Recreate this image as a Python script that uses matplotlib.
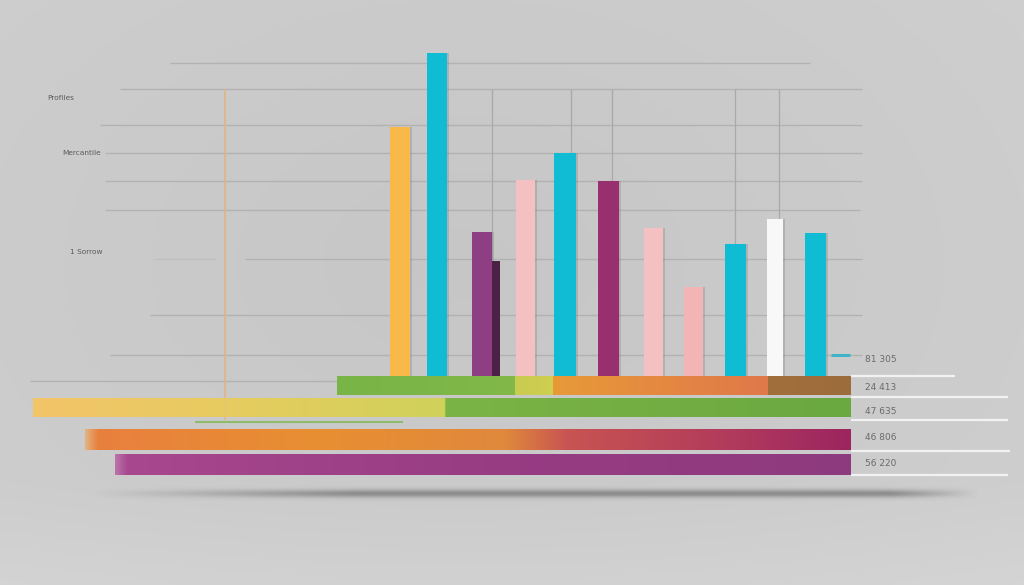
import numpy as np
import matplotlib
matplotlib.use("Agg")
import matplotlib.pyplot as plt
from matplotlib.colors import LinearSegmentedColormap
from matplotlib.patches import Rectangle

# ---------------- data ----------------
bar_values = [77.1, 100.0, 44.6, 60.7, 69.0, 60.4, 45.8, 27.6, 40.9, 48.6, 44.3]
bar_colors = ["#f8b94b", "#0fbcd4", "#8e3f84", "#f5c0c2", "#0fbcd4", "#982f6e",
              "#f5c0c2", "#f2b4b4", "#0fbcd4", "#f8f8f8", "#0fbcd4"]
shadow_value = 35.6            # dark step beside the purple bar
grid_levels = [97.0, 88.9, 77.7, 69.0, 60.4, 51.4, 36.2, 18.9, 6.5, -1.5]
axis_labels = ["Profiles", "Mercantile", "1 Sorrow"]
axis_label_levels = [86.1, 69.0, 38.4]

row_lengths = [514, 818, 766, 736]
row_labels = ["81 305", "24 413", "47 635", "46 806", "56 220"]

# ---------------- layout ----------------
W, H = 1024, 585
BASE = 376.0
SCALE = 3.23
bar_x = [400, 437, 482, 525.5, 565, 608.5, 653.5, 693.5, 735.5, 775, 815.5]
bar_w = [20, 20, 20, 19, 22, 21, 19, 19, 21, 16, 21]
grid_x = [(170, 810), (120, 862), (100, 862), (105, 862), (105, 862),
          (105, 860), (245, 862), (150, 862), (110, 862), (30, 340)]
vline_x = [492, 571, 612, 735, 779]
row_right = 851
row_y = [385.5, 407.5, 439.5, 464.5]
row_h = [19, 19, 21, 21]
label_y = [359, 388, 411, 438, 463]
white_lines = [(376, 955), (397, 1008), (420, 1008), (451, 1010), (475, 1008)]

fig = plt.figure(figsize=(W / 100, H / 100), dpi=100)

# background
ax_bg = fig.add_axes([0, 0, 1, 1])
ax_bg.set_xlim(0, W); ax_bg.set_ylim(H, 0); ax_bg.axis("off")
yy, xx = np.mgrid[0:H, 0:W].astype(float)
r = np.sqrt(((xx - W * 0.45) / (W * 0.6)) ** 2 + ((yy - H * 0.45) / (H * 0.7)) ** 2)
g = 0.778 + 0.028 * np.clip(r, 0, 1.2)
g = g + 0.02 * np.clip((yy - 480) / 100, 0, 1)
ax_bg.imshow(np.dstack([g, g, g]), extent=[0, W, H, 0], aspect="auto", zorder=0,
             interpolation="bilinear")

# vertical bar axes (value units)
ax_v = fig.add_axes([0, 0, 1, 1], zorder=1)
ax_v.patch.set_alpha(0)
ax_v.set_xlim(0, W)
ax_v.set_ylim(-(H - BASE) / SCALE, BASE / SCALE)
ax_v.axis("off")

for lvl, (x0, x1) in zip(grid_levels, grid_x):
    ax_v.hlines(lvl, x0, x1, color="#b2b2b2", lw=1.0, zorder=1)
ax_v.hlines(36.2, 155, 215, color="#bebebe", lw=0.9, zorder=1)
ax_v.vlines(vline_x, 0, grid_levels[1], color="#a9a9a9", lw=0.9, zorder=1)
ax_v.vlines(225, -13.6, grid_levels[1], color="#e4b27e", lw=1.1, zorder=1)

# bar shadows then bars
ax_v.bar([x + 2 for x in bar_x], bar_values, width=bar_w, color="#7a7a7a",
         alpha=0.3, zorder=2)
ax_v.bar(bar_x[2] + 14, shadow_value, width=8, color="#4d2048", zorder=3)
ax_v.bar(bar_x, bar_values, width=bar_w, color=bar_colors, zorder=4)

for lab, lvl, x in zip(axis_labels, axis_label_levels, [47, 62, 70]):
    ax_v.text(x, lvl, lab, fontsize=5.3, color="#5a5a5a", va="center", ha="left",
              family="Liberation Sans Narrow" if False else "DejaVu Sans")

# horizontal bars (pixel units)
ax_h = fig.add_axes([0, 0, 1, 1], zorder=2)
ax_h.patch.set_alpha(0)
ax_h.set_xlim(0, W); ax_h.set_ylim(H, 0); ax_h.axis("off")

# soft shadow under bars
sy, sx = np.mgrid[0:40, 0:460]
xs = np.linspace(0, 1, 460)
prof = np.clip(np.minimum(xs / 0.3, (1 - xs) / 0.1), 0, 1)
alpha = np.exp(-((sy - 20) / 4.0) ** 2) * prof[None, :] * 0.45
img = np.zeros((40, 460, 4)); img[..., :3] = 0.25; img[..., 3] = alpha
ax_h.imshow(img, extent=[90, 980, 513, 473], aspect="auto", zorder=1,
            interpolation="bilinear")

def grad_bar(y, left, right, h, stops):
    rect = Rectangle((left, y - h / 2), right - left, h, facecolor="none",
                     edgecolor="none")
    ax_h.add_patch(rect)
    cmap = LinearSegmentedColormap.from_list("c", stops)
    grad = np.linspace(0, 1, 512)[None, :]
    im = ax_h.imshow(grad, cmap=cmap, extent=[left, right, y + h / 2, y - h / 2],
                     aspect="auto", zorder=3, interpolation="bilinear")
    im.set_clip_path(rect)

lefts = [row_right - L for L in row_lengths]
bars = ax_h.barh(row_y, row_lengths, left=lefts, height=row_h,
                 color="#cccccc", zorder=2)

# row 1: segmented
seg = [(lefts[0], 515, [(0, "#78b446"), (1, "#82b84a")]),
       (515, 553, [(0, "#c8cc50"), (1, "#cfcf50")]),
       (553, 768, [(0, "#e89a38"), (1, "#e0784a")]),
       (768, row_right, [(0, "#a06f3c"), (1, "#9c6c3a")])]
for l, rr, st in seg:
    grad_bar(row_y[0], l, rr, row_h[0], st)
# row 2
L2 = lefts[1]; f = (445 - L2) / (row_right - L2)
grad_bar(row_y[1], L2, row_right, row_h[1],
         [(0, "#f2c468"), (0.5 * f, "#e6cc60"), (f - 0.001, "#cfd25a"),
          (f, "#7bb446"), (1, "#6aa840")])
# row 3
L3 = lefts[2]
grad_bar(row_y[2], L3, row_right, row_h[2],
         [(0, "#e2b07e"), (0.015, "#e8803e"), (0.3, "#e88f32"), (0.55, "#e0883c"),
          (0.63, "#c85452"), (0.85, "#b03a5c"), (1, "#9c2560")])
# row 4
L4 = lefts[3]
grad_bar(row_y[3], L4, row_right, row_h[3],
         [(0, "#b872a8"), (0.015, "#a8488e"), (0.5, "#983c84"), (1, "#8e3a7e")])

ax_h.hlines(422, 195, 403, color="#8fbb6a", lw=1.5, zorder=2)
ax_h.vlines(225, 398, 417, color="#e8c080", lw=1.0, alpha=0.6, zorder=4)
ax_h.hlines(355, 831, 850, color="#3fb3c8", lw=2.2, zorder=4)

for (y, x1) in white_lines:
    ax_h.hlines(y, row_right, x1, color="#f2f2f2", lw=1.6, zorder=4)

for lab, y in zip(row_labels, label_y):
    ax_h.text(865, y, lab, fontsize=6.5, color="#6a6a6a", va="center", ha="left")

fig.savefig("out.png", dpi=100)
